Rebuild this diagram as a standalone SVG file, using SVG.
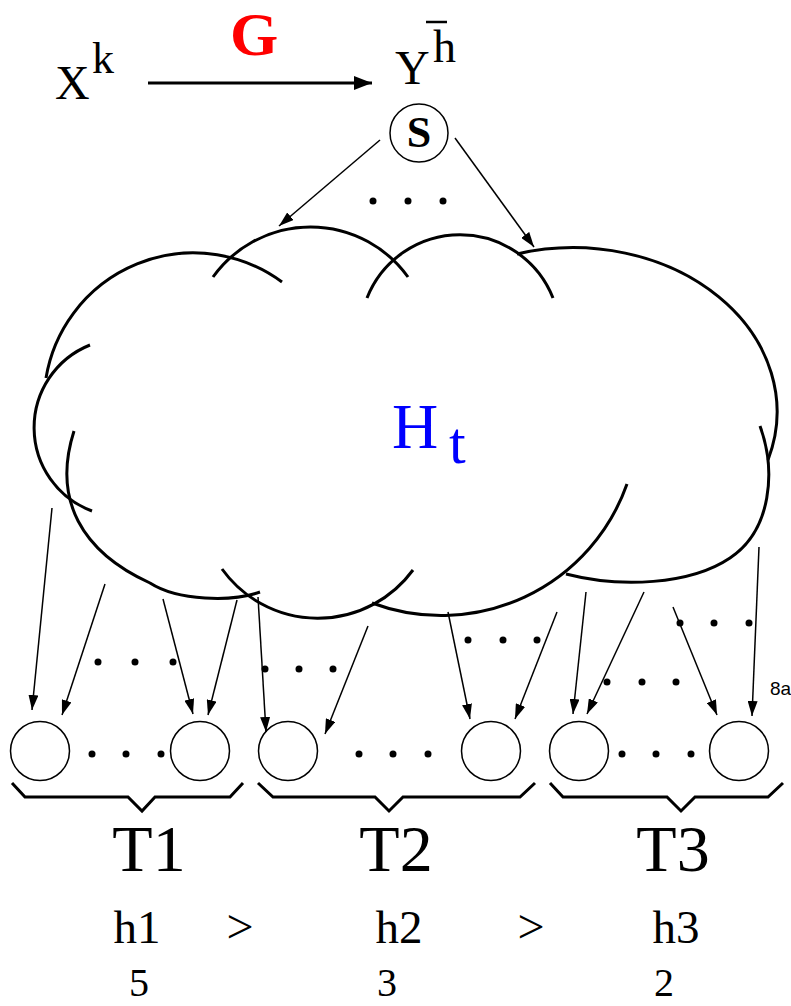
<svg xmlns="http://www.w3.org/2000/svg" width="791" height="1006" viewBox="0 0 791 1006">
<style>
.serif{font-family:"Liberation Serif","DejaVu Serif",serif;fill:#000}
.cloud{fill:none;stroke:#000;stroke-width:3;stroke-linecap:butt}
.thin{fill:none;stroke:#000;stroke-width:1.5}
.node{fill:#fff;stroke:#000;stroke-width:1.5}
.brace{fill:none;stroke:#000;stroke-width:3;stroke-linejoin:miter}
.dot{fill:#000}
</style>
<defs>
<marker id="ah" viewBox="0 0 15 10" refX="15" refY="5" markerWidth="15" markerHeight="10" markerUnits="userSpaceOnUse" orient="auto">
<path d="M0,0 L15,5 L0,10 z" fill="#000"/>
</marker>
<marker id="ahBig" viewBox="0 0 18 14" refX="18" refY="7" markerWidth="18" markerHeight="14" markerUnits="userSpaceOnUse" orient="auto">
<path d="M0,0 L18,7 L0,14 z" fill="#000"/>
</marker>
</defs>
<rect width="791" height="1006" fill="#fff"/>

<g id="node-X">
<text class="serif" x="55" y="99" font-size="48">X</text>
<text class="serif" x="92" y="73" font-size="44">k</text>
</g>
<g id="label-G">
<text x="254" y="55" font-size="62" font-weight="bold" text-anchor="middle" style="font-family:'Liberation Serif','DejaVu Serif',serif;fill:#ff0000">G</text>
</g>
<g id="node-Y">
<text class="serif" x="395" y="84" font-size="48">Y</text>
<text class="serif" x="433" y="62" font-size="46">h</text>
<line x1="426" y1="22" x2="447" y2="22" stroke="#000" stroke-width="2.5"/>
</g>
<g id="node-S">
<circle class="node" cx="419" cy="133" r="29"/>
<text class="serif" x="419" y="147" font-size="44" font-weight="bold" text-anchor="middle">S</text>
</g>

<g id="node-Ht">
<path class="cloud" d="M46,378 A149.4,149.4 0 0 1 282,282"/>
<path class="cloud" d="M213,277 A120,120 0 0 1 408,277"/>
<path class="cloud" d="M367,298 A100,100 0 0 1 553,298"/>
<path class="cloud" d="M517,254 A204,164 0 0 1 768,460"/>
<path class="cloud" d="M760,426 C776,470 772,530 730,558 C690,585 620,588 566,574"/>
<path class="cloud" d="M627,484 A197,197 0 0 1 372,603"/>
<path class="cloud" d="M413,570 A118,118 0 0 1 222,569"/>
<path class="cloud" d="M74,431 C52,500 82,552 150,583 C178,601 232,602 260,592"/>
<path class="cloud" d="M90,345 A89,89 0 0 0 92,511"/>
<text x="392" y="448" font-size="64" style="font-family:'Liberation Serif','DejaVu Serif',serif;fill:#0000ff">H</text>
<text x="449" y="463" font-size="60" style="font-family:'Liberation Serif','DejaVu Serif',serif;fill:#0000ff">t</text>
</g>

<g id="leaves">
<circle class="node" cx="40" cy="751" r="29.5"/>
<circle class="node" cx="200" cy="751" r="29.5"/>
<circle class="node" cx="288" cy="751" r="29.5"/>
<circle class="node" cx="491" cy="751" r="29.5"/>
<circle class="node" cx="579" cy="751" r="29.5"/>
<circle class="node" cx="739" cy="751" r="29.5"/>
</g>

<g id="connectors">
<line x1="148" y1="83" x2="372" y2="83" stroke="#000" stroke-width="3" marker-end="url(#ahBig)"/>
<line class="thin" x1="380" y1="140" x2="279" y2="226" marker-end="url(#ah)"/>
<line class="thin" x1="455" y1="138" x2="534" y2="247" marker-end="url(#ah)"/>
<line class="thin" x1="52" y1="508" x2="32" y2="710" marker-end="url(#ah)"/>
<line class="thin" x1="105" y1="584" x2="62" y2="715" marker-end="url(#ah)"/>
<line class="thin" x1="163" y1="599" x2="193" y2="714" marker-end="url(#ah)"/>
<line class="thin" x1="237" y1="600" x2="208" y2="715" marker-end="url(#ah)"/>
<line class="thin" x1="258" y1="597" x2="266" y2="732" marker-end="url(#ah)"/>
<line class="thin" x1="368" y1="626" x2="325" y2="734" marker-end="url(#ah)"/>
<line class="thin" x1="448" y1="612" x2="470" y2="719" marker-end="url(#ah)"/>
<line class="thin" x1="557" y1="612" x2="515" y2="719" marker-end="url(#ah)"/>
<line class="thin" x1="586" y1="592" x2="573" y2="714" marker-end="url(#ah)"/>
<line class="thin" x1="644" y1="592" x2="587" y2="714" marker-end="url(#ah)"/>
<line class="thin" x1="673" y1="607" x2="717" y2="715" marker-end="url(#ah)"/>
<line class="thin" x1="759" y1="547" x2="752" y2="716" marker-end="url(#ah)"/>
</g>

<g id="dots">
<circle class="dot" cx="373" cy="201" r="3.5"/><circle class="dot" cx="408" cy="201" r="3.5"/><circle class="dot" cx="443" cy="201" r="3.5"/>
<circle class="dot" cx="98" cy="662" r="3.5"/><circle class="dot" cx="135" cy="662" r="3.5"/><circle class="dot" cx="173" cy="662" r="3.5"/>
<circle class="dot" cx="265" cy="669" r="3.5"/><circle class="dot" cx="299" cy="669" r="3.5"/><circle class="dot" cx="333" cy="669" r="3.5"/>
<circle class="dot" cx="468" cy="640" r="3.5"/><circle class="dot" cx="503" cy="640" r="3.5"/><circle class="dot" cx="537" cy="640" r="3.5"/>
<circle class="dot" cx="607" cy="682" r="3.5"/><circle class="dot" cx="642" cy="682" r="3.5"/><circle class="dot" cx="676" cy="682" r="3.5"/>
<circle class="dot" cx="680" cy="623" r="3.5"/><circle class="dot" cx="714" cy="623" r="3.5"/><circle class="dot" cx="749" cy="623" r="3.5"/>
<circle class="dot" cx="92" cy="754" r="3.5"/><circle class="dot" cx="126" cy="754" r="3.5"/><circle class="dot" cx="161" cy="754" r="3.5"/>
<circle class="dot" cx="359" cy="754" r="3.5"/><circle class="dot" cx="393" cy="754" r="3.5"/><circle class="dot" cx="428" cy="754" r="3.5"/>
<circle class="dot" cx="622" cy="754" r="3.5"/><circle class="dot" cx="656" cy="754" r="3.5"/><circle class="dot" cx="691" cy="754" r="3.5"/>
</g>

<text x="770" y="695" font-size="19" style="font-family:'Liberation Sans',Arial,sans-serif;fill:#000">8a</text>

<g id="brace-T1">
<path class="brace" d="M12,783 L25,797 L128,797 L142,811 L155,797 L230,797 L243,783"/>
<text class="serif" x="149" y="871" font-size="66" text-anchor="middle">T1</text>
</g>
<g id="brace-T2">
<path class="brace" d="M258,783 L273,797 L375,797 L389,811 L403,797 L520,797 L535,783"/>
<text class="serif" x="396" y="871" font-size="66" text-anchor="middle">T2</text>
</g>
<g id="brace-T3">
<path class="brace" d="M550,783 L563,797 L667,797 L681,811 L695,797 L768,797 L783,783"/>
<text class="serif" x="673" y="871" font-size="66" text-anchor="middle">T3</text>
</g>

<g id="heights">
<text class="serif" x="137" y="943" font-size="47" text-anchor="middle">h1</text>
<text class="serif" x="240" y="943" font-size="48" text-anchor="middle">&gt;</text>
<text class="serif" x="399" y="943" font-size="47" text-anchor="middle">h2</text>
<text class="serif" x="531" y="943" font-size="48" text-anchor="middle">&gt;</text>
<text class="serif" x="676" y="943" font-size="47" text-anchor="middle">h3</text>
<text class="serif" x="139" y="996" font-size="40" text-anchor="middle">5</text>
<text class="serif" x="387" y="996" font-size="40" text-anchor="middle">3</text>
<text class="serif" x="664" y="996" font-size="40" text-anchor="middle">2</text>
</g>
</svg>
